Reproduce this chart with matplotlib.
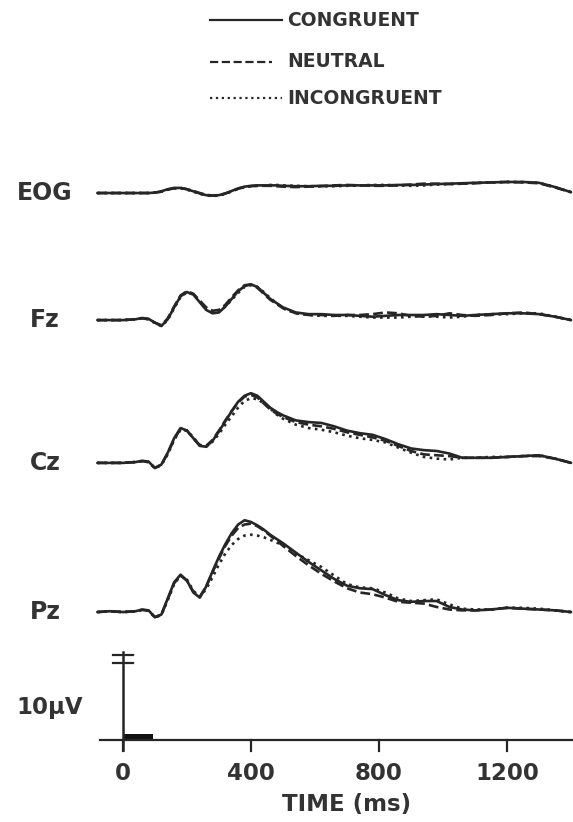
import matplotlib
matplotlib.use("Agg")
import matplotlib.pyplot as plt
from matplotlib.patches import Rectangle

plt.rcParams['font.family'] = ['DejaVu Sans']

# time base (ms) shared by all traces
t_ms = [-80, -40, 0, 40, 60, 80, 100, 120, 140, 160,
        180, 200, 220, 240, 260, 280, 300, 320, 340, 360,
        380, 400, 420, 440, 460, 480, 500, 540, 580, 620,
        660, 700, 740, 780, 820, 860, 900, 940, 980, 1020,
        1060, 1100, 1150, 1200, 1250, 1300, 1350, 1400]

conditions = ["CONGRUENT", "NEUTRAL", "INCONGRUENT"]
channels = ["EOG", "Fz", "Cz", "Pz"]

# amplitudes in microvolts, one list per condition
eog_con = [0, 0, 0, 0, 0, 0, 0.05, 0.2, 0.45, 0.6,
           0.6, 0.45, 0.2, -0.05, -0.25, -0.3, -0.25, -0.05, 0.25, 0.55,
           0.75, 0.85, 0.9, 0.9, 0.9, 0.9, 0.85, 0.8, 0.8, 0.85,
           0.85, 0.9, 0.9, 0.9, 0.9, 0.95, 0.95, 1.0, 1.05, 1.1,
           1.15, 1.2, 1.25, 1.3, 1.3, 1.2, 0.7, 0.1]
eog_neu = [0, 0, 0, 0, 0, 0, 0.05, 0.15, 0.4, 0.55,
           0.6, 0.45, 0.25, 0.0, -0.2, -0.3, -0.25, -0.05, 0.2, 0.5,
           0.7, 0.8, 0.85, 0.85, 0.85, 0.8, 0.75, 0.7, 0.75, 0.8,
           0.9, 0.95, 0.9, 0.85, 0.85, 0.9, 1.0, 1.1, 1.1, 1.05,
           1.1, 1.15, 1.25, 1.3, 1.25, 1.15, 0.65, 0.1]
eog_inc = [0, 0, 0, 0, 0, 0, 0.05, 0.2, 0.4, 0.55,
           0.55, 0.4, 0.15, -0.1, -0.3, -0.35, -0.3, -0.1, 0.2, 0.5,
           0.7, 0.8, 0.85, 0.9, 0.95, 0.95, 0.9, 0.85, 0.8, 0.8,
           0.8, 0.85, 0.9, 0.95, 0.95, 0.9, 0.85, 0.9, 1.0, 1.05,
           1.1, 1.2, 1.25, 1.3, 1.3, 1.2, 0.7, 0.1]

fz_con = [0, 0, 0, 0.1, 0.25, 0.15, -0.3, -0.7, 0.1, 1.5,
          2.8, 3.3, 3.0, 2.1, 1.2, 0.8, 0.9, 1.6, 2.5, 3.4,
          4.0, 4.2, 3.9, 3.2, 2.5, 2.0, 1.5, 0.9, 0.7, 0.7,
          0.6, 0.6, 0.5, 0.4, 0.5, 0.6, 0.6, 0.6, 0.7, 0.6,
          0.5, 0.6, 0.7, 0.8, 0.8, 0.7, 0.4, 0.0]
fz_neu = [0, 0, 0, 0.1, 0.2, 0.1, -0.3, -0.6, 0.2, 1.6,
          2.9, 3.4, 3.1, 2.3, 1.5, 1.1, 1.2, 1.8, 2.7, 3.5,
          4.1, 4.2, 3.8, 3.1, 2.4, 1.9, 1.4, 0.8, 0.6, 0.6,
          0.5, 0.6, 0.6, 0.7, 0.9, 0.8, 0.5, 0.4, 0.5, 0.8,
          0.6, 0.5, 0.6, 0.8, 0.9, 0.7, 0.4, 0.0]
fz_inc = [0, 0, 0, 0.1, 0.2, 0.1, -0.35, -0.7, 0.0, 1.4,
          2.7, 3.3, 3.0, 2.2, 1.4, 1.0, 1.0, 1.6, 2.4, 3.2,
          3.9, 4.1, 3.9, 3.3, 2.6, 2.0, 1.4, 0.8, 0.6, 0.5,
          0.5, 0.5, 0.4, 0.3, 0.3, 0.3, 0.4, 0.5, 0.4, 0.3,
          0.4, 0.6, 0.7, 0.7, 0.8, 0.8, 0.4, 0.0]

cz_con = [0, 0, 0, 0.1, 0.25, 0.15, -0.6, -0.2, 1.2, 2.9,
          4.1, 3.8, 2.9, 2.0, 1.9, 2.6, 3.7, 4.9, 6.1, 7.2,
          7.9, 8.2, 7.9, 7.2, 6.5, 6.0, 5.6, 5.0, 4.8, 4.7,
          4.3, 3.8, 3.5, 3.3, 2.8, 2.2, 1.7, 1.5, 1.4, 1.1,
          0.6, 0.6, 0.6, 0.7, 0.8, 0.9, 0.5, 0.0]
cz_neu = [0, 0, 0, 0.1, 0.2, 0.1, -0.6, -0.2, 1.1, 2.8,
          4.0, 3.8, 2.9, 2.1, 2.0, 2.7, 3.8, 5.0, 6.1, 7.1,
          7.8, 8.0, 7.7, 7.0, 6.3, 5.8, 5.4, 4.8, 4.5, 4.3,
          4.0, 3.6, 3.3, 3.0, 2.6, 2.0, 1.4, 1.0, 0.9, 0.8,
          0.6, 0.6, 0.6, 0.7, 0.8, 0.8, 0.5, 0.0]
cz_inc = [0, 0, 0, 0.1, 0.2, 0.1, -0.65, -0.25, 1.0, 2.7,
          3.9, 3.8, 3.0, 2.1, 1.9, 2.5, 3.4, 4.5, 5.5, 6.5,
          7.3, 7.6, 7.5, 7.0, 6.4, 5.7, 5.2, 4.5, 4.1, 3.9,
          3.6, 3.2, 2.9, 2.7, 2.4, 1.8, 1.2, 0.7, 0.5, 0.4,
          0.6, 0.6, 0.7, 0.7, 0.8, 0.9, 0.5, 0.0]

pz_con = [0, 0.1, 0, 0.1, 0.3, 0.2, -0.6, -0.3, 1.6, 3.5,
          4.4, 3.7, 2.3, 1.7, 3.0, 4.8, 6.5, 8.0, 9.3, 10.3,
          10.8, 10.6, 10.2, 9.7, 9.1, 8.6, 8.1, 7.0, 5.9, 4.9,
          3.9, 3.1, 2.8, 2.7, 2.0, 1.4, 1.2, 1.3, 1.3, 0.6,
          0.3, 0.2, 0.3, 0.5, 0.4, 0.3, 0.2, 0.0]
pz_neu = [0, 0.1, 0, 0.1, 0.25, 0.15, -0.6, -0.3, 1.5, 3.4,
          4.3, 3.7, 2.4, 1.8, 3.0, 4.7, 6.3, 7.8, 9.0, 9.9,
          10.3, 10.4, 10.1, 9.6, 9.0, 8.4, 7.8, 6.6, 5.5, 4.5,
          3.6, 2.8, 2.3, 2.1, 1.7, 1.2, 1.1, 1.0, 0.6, 0.3,
          0.2, 0.2, 0.3, 0.5, 0.4, 0.3, 0.2, 0.0]
pz_inc = [0, 0.1, 0, 0.1, 0.25, 0.15, -0.65, -0.35, 1.4, 3.3,
          4.3, 3.8, 2.5, 1.8, 2.7, 4.1, 5.6, 6.9, 7.9, 8.6,
          9.0, 9.1, 9.0, 8.8, 8.5, 8.2, 7.8, 6.9, 6.1, 5.3,
          4.3, 3.3, 2.9, 2.8, 2.3, 1.6, 1.3, 1.4, 1.5, 0.9,
          0.4, 0.3, 0.3, 0.5, 0.5, 0.4, 0.2, 0.0]

time_ticks = [0, 400, 800, 1200]
scale_uv = 10
stim_ms = 95

traces = {"EOG": [eog_con, eog_neu, eog_inc],
          "Fz": [fz_con, fz_neu, fz_inc],
          "Cz": [cz_con, cz_neu, cz_inc],
          "Pz": [pz_con, pz_neu, pz_inc]}

# layout: vertical offset of each channel baseline (uV above the time axis)
offsets = {"EOG": 64.35, "Fz": 49.4, "Cz": 32.6, "Pz": 15.05}
styles = ['-', '--', ':']
ink = '#262626'

fig = plt.figure(figsize=(5.73, 8.22), dpi=100)
ax = fig.add_axes([0, 0, 1, 1])
ax.set_xlim(-384, 1406)
ax.set_ylim(-9.65, 87.06)
ax.axis('off')

for ch in channels:
    off = offsets[ch]
    for vals, ls in zip(traces[ch], styles):
        ax.plot(t_ms, [v + off for v in vals], ls=ls, color=ink, lw=1.9,
                solid_capstyle='round')
    xl = -331 if ch == "EOG" else -291
    ax.text(xl, off, ch, ha='left', va='center', fontsize=17,
            fontweight='bold', color='#333333')

# legend drawn by hand at the top
leg_y = [84.7, 79.8, 75.5]
for cond, ls, yy in zip(conditions, styles, leg_y):
    x1 = 497 if ls != '--' else 465
    ax.plot([272, x1], [yy, yy], ls=ls, color=ink, lw=1.6)
    ax.text(512, yy, cond, ha='left', va='center', fontsize=13.5,
            fontweight='bold', color='#333333')

# time axis
ax.plot([-72, 1406], [0, 0], color=ink, lw=1.6)
for tk in time_ticks:
    ax.plot([tk, tk], [0, -1.3], color=ink, lw=1.6)
    ax.text(tk, -3.9, str(tk), ha='center', va='center', fontsize=16.5,
            fontweight='bold', color='#333333')
ax.text(700, -7.6, 'TIME (ms)', ha='center', va='center', fontsize=16.5,
        fontweight='bold', color='#333333')

# calibration bar and stimulus duration
ax.plot([0, 0], [-1.2, scale_uv + 0.35], color=ink, lw=1.8)
ax.plot([-30, 30], [scale_uv, scale_uv], color=ink, lw=1.6)
ax.plot([-30, 30], [scale_uv - 0.95, scale_uv - 0.95], color=ink, lw=1.6)
ax.add_patch(Rectangle((0, 0), stim_ms, 0.7, color='#111111', lw=0))
ax.text(-334, 3.8, '10\u00b5V', ha='left', va='center', fontsize=16.5,
        fontweight='bold', color='#333333')

fig.savefig('out.png', dpi=100, facecolor='white')
